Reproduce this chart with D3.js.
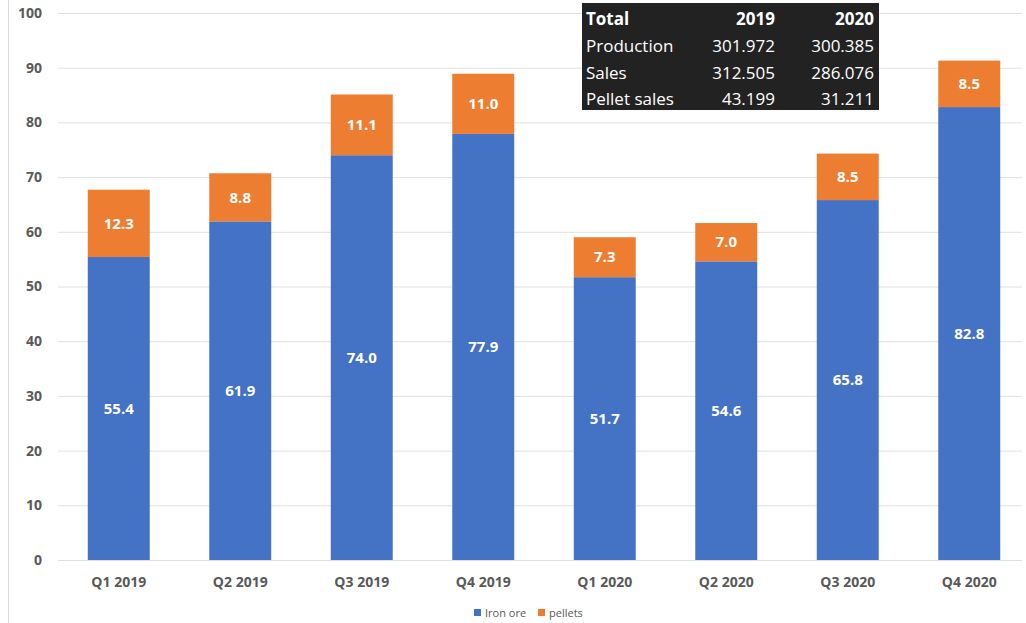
<!DOCTYPE html>
<html>
<head>
<meta charset="utf-8">
<script src="https://cdn.jsdelivr.net/npm/d3@7"></script>
<style>
  body { margin: 0; background: #fff; }
  svg { font-family: "Open Sans", "Noto Sans", sans-serif; }
</style>
</head>
<body>
<div id="chart"></div>
<script>
// chart data
const quarters = ["Q1 2019", "Q2 2019", "Q3 2019", "Q4 2019", "Q1 2020", "Q2 2020", "Q3 2020", "Q4 2020"];
const ironOre = [55.4, 61.9, 74.0, 77.9, 51.7, 54.6, 65.8, 82.8];
const pellets = [12.3, 8.8, 11.1, 11.0, 7.3, 7.0, 8.5, 8.5];
const yTicks = [0, 10, 20, 30, 40, 50, 60, 70, 80, 90, 100];

// summary table
const tableHeader = ["Total", "2019", "2020"];
const tableRows = [
  ["Production", "301.972", "300.385"],
  ["Sales", "312.505", "286.076"],
  ["Pellet sales", "43.199", "31.211"]
];

const width = 1026, height = 623;
const margin = { top: 13, right: -4, bottom: 63, left: 58 };

const svg = d3.select("#chart").append("svg")
  .attr("width", width)
  .attr("height", height);

// faint frame line on the left
svg.append("line")
  .attr("x1", 8.5).attr("x2", 8.5)
  .attr("y1", 0).attr("y2", height)
  .attr("stroke", "#d9d9d9");

const x = d3.scaleBand()
  .domain(quarters)
  .range([margin.left, width - margin.right])
  .paddingInner(0.49)
  .paddingOuter(0.245);

const y = d3.scaleLinear()
  .domain([0, 100])
  .range([height - margin.bottom, margin.top]);

// gridlines
svg.append("g")
  .selectAll("line")
  .data(yTicks)
  .enter().append("line")
  .attr("x1", margin.left)
  .attr("x2", 1022)
  .attr("y1", d => y(d) + 0.5)
  .attr("y2", d => y(d) + 0.5)
  .attr("stroke", "#e0e0e0");

// y labels
svg.append("g")
  .selectAll("text")
  .data(yTicks)
  .enter().append("text")
  .attr("x", 42)
  .attr("y", d => y(d))
  .attr("dy", "0.35em")
  .attr("text-anchor", "end")
  .style("font-size", "14px")
  .style("font-weight", "bold")
  .style("fill", "#595959")
  .text(d => d);

// x labels
svg.append("g")
  .selectAll("text")
  .data(quarters)
  .enter().append("text")
  .attr("x", d => x(d) + x.bandwidth() / 2)
  .attr("y", 587)
  .attr("text-anchor", "middle")
  .style("font-size", "14px")
  .style("font-weight", "bold")
  .style("fill", "#595959")
  .text(d => d);

// stacked bars
const rows = quarters.map((q, i) => ({ q, ore: ironOre[i], pel: pellets[i] }));
const stack = d3.stack().keys(["ore", "pel"])(rows);
const colors = { ore: "#4472C4", pel: "#ED7D31" };

stack.forEach(layer => {
  const g = svg.append("g");
  g.selectAll("rect")
    .data(layer)
    .enter().append("rect")
    .attr("x", d => x(d.data.q))
    .attr("width", x.bandwidth())
    .attr("y", d => y(d[1]))
    .attr("height", d => y(d[0]) - y(d[1]))
    .attr("fill", colors[layer.key]);

  g.selectAll("text")
    .data(layer)
    .enter().append("text")
    .attr("x", d => x(d.data.q) + x.bandwidth() / 2)
    .attr("y", d => (y(d[0]) + y(d[1])) / 2)
    .attr("dy", "0.35em")
    .attr("text-anchor", "middle")
    .style("font-size", "15px")
    .style("font-weight", "bold")
    .style("fill", "#fff")
    .text(d => (d[1] - d[0]).toFixed(1));
});

// legend
const legend = svg.append("g").attr("transform", "translate(474,613)");
const legendItems = [["Iron ore", colors.ore], ["pellets", colors.pel]];
let lx = 0;
legendItems.forEach(([name, c]) => {
  legend.append("rect").attr("x", lx).attr("y", -4).attr("width", 7).attr("height", 7).attr("fill", c);
  legend.append("text")
    .attr("x", lx + 11).attr("y", 0).attr("dy", "0.35em")
    .style("font-size", "11px").style("fill", "#595959")
    .text(name);
  lx += 64;
});

// table box
const tb = svg.append("g").attr("transform", "translate(582,3)");
tb.append("rect").attr("width", 297).attr("height", 107).attr("fill", "#222222");
const colX = [4, 193, 292];
const rowY = [16, 43, 70, 96];
const allRows = [tableHeader].concat(tableRows);
allRows.forEach((r, ri) => {
  r.forEach((cell, ci) => {
    tb.append("text")
      .attr("x", colX[ci])
      .attr("y", rowY[ri])
      .attr("dy", "0.35em")
      .attr("text-anchor", ci === 0 ? "start" : "end")
      .style("font-size", "17px")
      .style("font-weight", ri === 0 ? "bold" : "normal")
      .style("fill", "#fff")
      .text(cell);
  });
});
</script>
</body>
</html>
